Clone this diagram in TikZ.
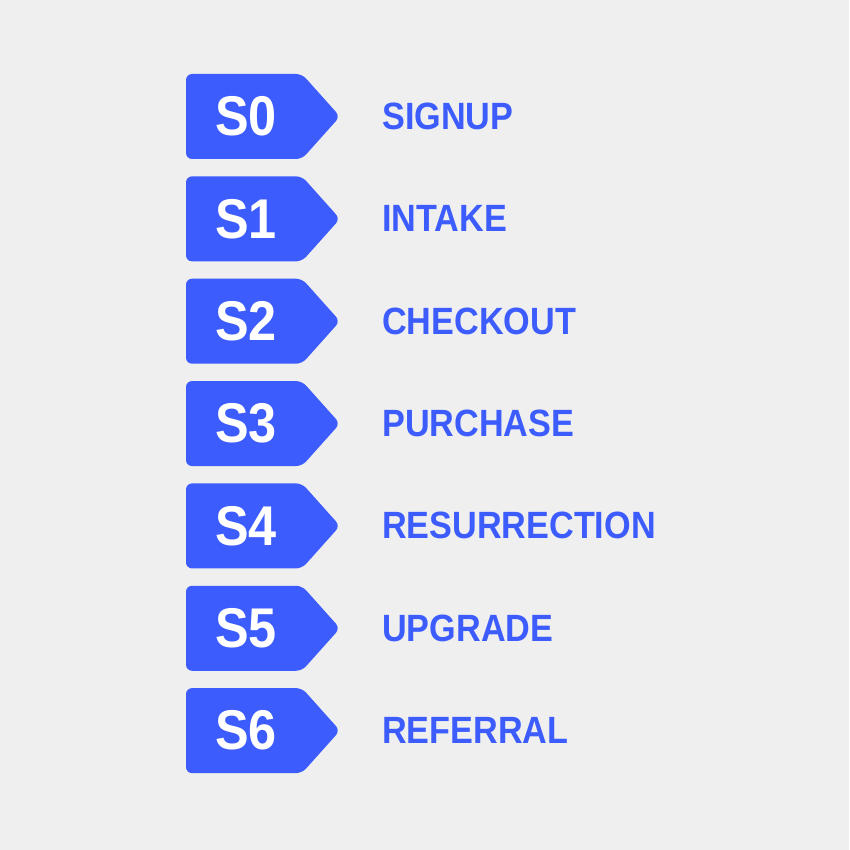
\documentclass[tikz,border=0pt]{standalone}
\usepackage{fontspec}
\setmainfont{Liberation Sans}
\newfontfamily\tagfont[FakeStretch=0.9]{Liberation Sans}
\usetikzlibrary{positioning}
\definecolor{stageblue}{HTML}{3D5CFD}
\definecolor{paper}{HTML}{EFEFEF}
\tikzset{
	tag shape/.style={
		fill=stageblue,
		draw=none,
		rounded corners=6pt,
	},
	tag text/.style={
		text=white,
		inner sep=0pt,
		font=\tagfont\fontsize{56}{56}\bfseries\selectfont,
	},
	stage label/.style={
		text=stageblue,
		inner sep=0pt,
		anchor=west,
		font=\tagfont\fontsize{38}{38}\bfseries\selectfont,
	},
}

\begin{document}
\begin{tikzpicture}[x=1pt,y=-1pt]
\fill[paper] (0,0) rectangle (849,850);
\useasboundingbox (0,0) rectangle (849,850);

\foreach[count=\i from 0] \name in {
	SIGNUP,INTAKE,CHECKOUT,PURCHASE,RESURRECTION,UPGRADE,REFERRAL%
}{
	\pgfmathsetmacro\yc{116.5+102.35*\i}
	\draw[tag shape]
	(186,\yc-42.5) --
	(302,\yc-42.5) --
	(340,\yc) --
	(302,\yc+42.5) --
	(186,\yc+42.5) -- cycle
	;
	\node[tag text] (tag\i) at (246,\yc) {S\i};
	\node[stage label] (lbl\i) at (382,\yc) {\name};
}

\end{tikzpicture}
\end{document}
